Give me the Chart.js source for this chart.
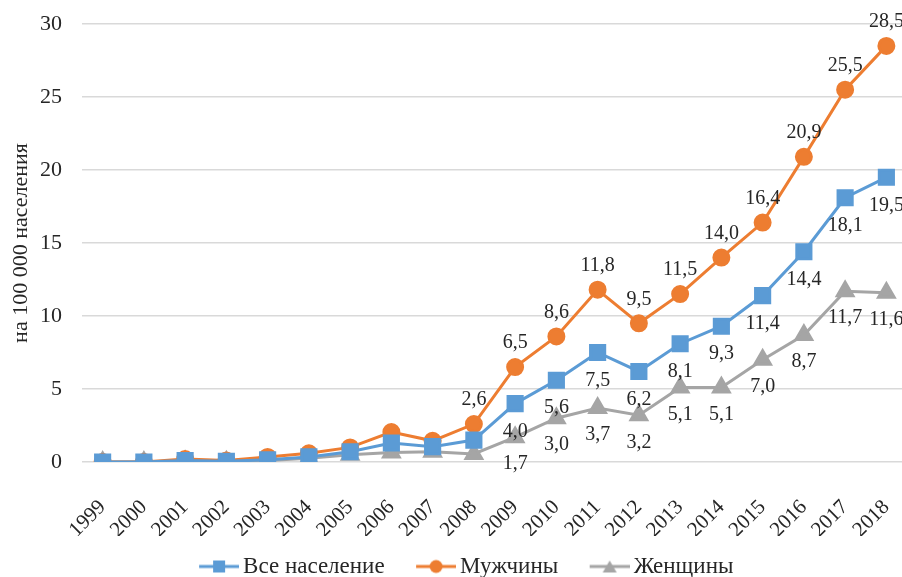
<!DOCTYPE html>
<html>
<head>
<meta charset="utf-8">
<script src="https://cdn.jsdelivr.net/npm/chart.js@4"></script>
<style>
  html, body { margin: 0; padding: 0; background: #fff; overflow: hidden; }
</style>
</head>
<body>
<canvas id="chart" width="920" height="577"></canvas>
<script>
// данные
var years = ['1999', '2000', '2001', '2002', '2003', '2004', '2005', '2006', '2007', '2008',
  '2009', '2010', '2011', '2012', '2013', '2014', '2015', '2016', '2017', '2018'];
var allPopulation = [0, 0, 0.1, 0.05, 0.15, 0.35, 0.7, 1.3, 1.05, 1.5,
  4.0, 5.6, 7.5, 6.2, 8.1, 9.3, 11.4, 14.4, 18.1, 19.5];
var men = [0, 0, 0.2, 0.1, 0.35, 0.6, 1.0, 2.05, 1.45, 2.6,
  6.5, 8.6, 11.8, 9.5, 11.5, 14.0, 16.4, 20.9, 25.5, 28.5];
var women = [0, 0, 0.05, 0.02, 0.1, 0.25, 0.5, 0.65, 0.7, 0.55,
  1.7, 3.0, 3.7, 3.2, 5.1, 5.1, 7.0, 8.7, 11.7, 11.6];
// с какого года подписывать значения
var labelFrom = { all: '2009', men: '2008', women: '2009' };
var yTicks = [0, 5, 10, 15, 20, 25, 30];

var blue = '#5B9BD5', orange = '#ED7D31', gray = '#A5A5A5';
var serif = '"Liberation Serif", "DejaVu Serif", serif';

// значок легенды: линия с маркером (слева пустое место под отступ)
function legendIcon(color, style) {
  var c = document.createElement('canvas');
  c.width = 60; c.height = 16;
  var g = c.getContext('2d');
  g.strokeStyle = color; g.fillStyle = color; g.lineWidth = 3;
  g.beginPath(); g.moveTo(20, 8); g.lineTo(60, 8); g.stroke();
  g.beginPath();
  if (style === 'rect') g.rect(34, 2, 12, 12);
  else if (style === 'circle') g.arc(40, 8, 6.5, 0, Math.PI * 2);
  else { g.moveTo(40, 2); g.lineTo(47, 14); g.lineTo(33, 14); g.closePath(); }
  g.fill();
  return c;
}

function fmt(v) { return v.toFixed(1).replace('.', ','); }

var valueLabels = {
  id: 'valueLabels',
  afterDatasetsDraw: function (chart) {
    var ctx = chart.ctx;
    ctx.save();
    ctx.font = '20px ' + serif;
    ctx.fillStyle = '#262626';
    ctx.textAlign = 'center';
    ctx.textBaseline = 'middle';
    chart.data.datasets.forEach(function (ds, i) {
      var meta = chart.getDatasetMeta(i);
      var start = years.indexOf(ds.labelFrom);
      meta.data.forEach(function (pt, j) {
        if (j < start) return;
        ctx.fillText(fmt(ds.data[j]), pt.x, pt.y + ds.labelShift);
      });
    });
    ctx.restore();
  }
};

function draw() {
  var ctx = document.getElementById('chart').getContext('2d');
  new Chart(ctx, {
    type: 'line',
    data: {
      labels: years,
      datasets: [
        {
          label: 'Все население', data: allPopulation,
          borderColor: blue, backgroundColor: blue, borderWidth: 3,
          pointStyle: 'rect', pointRadius: 10, pointHoverRadius: 10,
          labelFrom: labelFrom.all, labelShift: 28, icon: legendIcon(blue, 'rect')
        },
        {
          label: 'Мужчины', data: men,
          borderColor: orange, backgroundColor: orange, borderWidth: 3,
          pointStyle: 'circle', pointRadius: 7.5, pointHoverRadius: 7.5,
          labelFrom: labelFrom.men, labelShift: -24, icon: legendIcon(orange, 'circle')
        },
        {
          label: 'Женщины', data: women,
          borderColor: gray, backgroundColor: gray, borderWidth: 3,
          pointStyle: 'triangle', pointRadius: 9, pointHoverRadius: 9,
          labelFrom: labelFrom.women, labelShift: 27, icon: legendIcon(gray, 'triangle')
        }
      ]
    },
    options: {
      responsive: false,
      animation: false,
      layout: { padding: { top: 24, left: 0, right: 0, bottom: -11 } },
      plugins: {
        tooltip: { enabled: false },
        legend: {
          position: 'bottom',
          labels: {
            usePointStyle: true,
            pointStyleWidth: 45,
            padding: 19,
            color: '#262626',
            font: { family: serif, size: 23 },
            generateLabels: function (chart) {
              return chart.data.datasets.map(function (ds, i) {
                return {
                  text: ds.label, pointStyle: ds.icon, fillStyle: ds.borderColor,
                  strokeStyle: ds.borderColor, lineWidth: 0, hidden: false,
                  datasetIndex: i, fontColor: '#262626'
                };
              });
            }
          }
        }
      },
      scales: {
        x: {
          offset: true,
          afterFit: function (scale) {
            scale.height = 74;
            scale.paddingLeft = 0;
            scale.paddingRight = 0;
          },
          grid: { display: false, drawTicks: false },
          border: { display: false },
          ticks: {
            autoSkip: false,
            maxRotation: 45, minRotation: 45, padding: 33,
            color: '#262626', font: { family: serif, size: 21 }
          }
        },
        y: {
          min: 0, max: 30,
          afterBuildTicks: function (scale) {
            scale.ticks = yTicks.map(function (v) { return { value: v }; });
          },
          afterFit: function (scale) {
            scale.width = 82;
            scale.paddingTop = 0;
            scale.paddingBottom = 0;
          },
          grid: { color: '#D9D9D9', lineWidth: 1.5, drawTicks: false },
          border: { display: false },
          title: {
            display: true, text: 'на 100 000 населения',
            color: '#262626', font: { family: serif, size: 22 },
            padding: { top: 8, bottom: 0 }
          },
          ticks: {
            padding: 20, color: '#262626',
            font: { family: serif, size: 22 }
          }
        }
      }
    },
    plugins: [valueLabels]
  });
}

if (document.fonts && document.fonts.load) {
  document.fonts.load('20px "Liberation Serif"').then(draw, draw);
} else {
  draw();
}
</script>
</body>
</html>
